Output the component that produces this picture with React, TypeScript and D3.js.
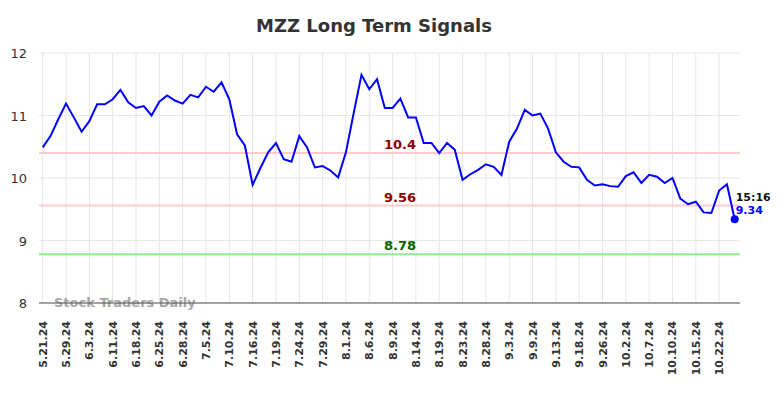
import React, { useEffect, useRef } from 'react';
import * as d3 from 'd3';

// Signal values, one per trading point
const prices = [
  10.49, 10.67, 10.94, 11.19, 10.97, 10.74, 10.91, 11.18, 11.18, 11.26,
  11.41, 11.21, 11.12, 11.15, 11.0, 11.22, 11.32, 11.24, 11.19, 11.33,
  11.29, 11.46, 11.38, 11.53, 11.26, 10.7, 10.52, 9.89, 10.16, 10.41,
  10.56, 10.3, 10.26, 10.67, 10.49, 10.17, 10.19, 10.12, 10.01, 10.41,
  11.04, 11.65, 11.42, 11.58, 11.12, 11.12, 11.27, 10.97, 10.97, 10.56,
  10.56, 10.4, 10.56, 10.45, 9.97, 10.06, 10.13, 10.22, 10.18, 10.05,
  10.58, 10.79, 11.09, 11.0, 11.03, 10.79, 10.41, 10.26, 10.18, 10.17,
  9.97, 9.88, 9.9, 9.87, 9.86, 10.03, 10.09, 9.92, 10.05, 10.02,
  9.92, 10.0, 9.67, 9.58, 9.62, 9.45, 9.44, 9.8, 9.9, 9.34,
];

// One label every third point
const dateLabels = [
  '5.21.24', '5.29.24', '6.3.24', '6.11.24', '6.18.24', '6.25.24', '6.28.24',
  '7.5.24', '7.10.24', '7.16.24', '7.19.24', '7.24.24', '7.29.24', '8.1.24',
  '8.6.24', '8.9.24', '8.14.24', '8.19.24', '8.23.24', '8.28.24', '9.3.24',
  '9.9.24', '9.13.24', '9.18.24', '9.26.24', '10.2.24', '10.7.24', '10.10.24',
  '10.15.24', '10.22.24',
];

const yTicks = [8, 9, 10, 11, 12];

const signalLevels = [
  { value: 10.4, text: '10.4', line: '#ffcccc', color: '#8b0000' },
  { value: 9.56, text: '9.56', line: '#ffcccc', color: '#8b0000' },
  { value: 8.78, text: '8.78', line: '#90ee90', color: '#006400' },
];

const lastTime = '15:16';

export default function App() {
  const ref = useRef<SVGSVGElement>(null);

  useEffect(() => {
    const svg = d3.select(ref.current);
    svg.selectAll('*').remove();

    const left = 39;
    const right = 740;
    const top = 53;
    const bottom = 303;
    const font = 'DejaVu Sans, sans-serif';

    const xScale = d3
      .scaleLinear()
      .domain([0, prices.length - 1])
      .range([42.7, 734.7]);

    const yScale = d3.scaleLinear().domain([8, 12]).range([bottom, top]);

    // Title
    svg
      .append('text')
      .attr('x', 374)
      .attr('y', 32)
      .attr('text-anchor', 'middle')
      .style('font-family', font)
      .style('font-size', '18px')
      .style('font-weight', 'bold')
      .style('fill', '#333')
      .text('MZZ Long Term Signals');

    // Grid
    const grid = svg.append('g').attr('class', 'grid');
    grid
      .selectAll('.hgrid')
      .data(yTicks)
      .enter()
      .append('line')
      .attr('x1', left)
      .attr('x2', right)
      .attr('y1', d => yScale(d))
      .attr('y2', d => yScale(d))
      .style('stroke', '#e6e6e6')
      .style('stroke-width', 1);

    grid
      .selectAll('.vgrid')
      .data(dateLabels)
      .enter()
      .append('line')
      .attr('x1', (d, i) => xScale(i * 3))
      .attr('x2', (d, i) => xScale(i * 3))
      .attr('y1', top)
      .attr('y2', bottom)
      .style('stroke', '#e6e6e6')
      .style('stroke-width', 1);

    // Y labels
    svg
      .append('g')
      .selectAll('text')
      .data(yTicks)
      .enter()
      .append('text')
      .attr('x', 27)
      .attr('y', d => yScale(d) + 5)
      .attr('text-anchor', 'end')
      .style('font-family', font)
      .style('font-size', '13px')
      .style('fill', '#333')
      .text(d => d);

    // Signal levels
    const levels = svg.append('g').attr('class', 'levels');
    levels
      .selectAll('line')
      .data(signalLevels)
      .enter()
      .append('line')
      .attr('x1', left)
      .attr('x2', right)
      .attr('y1', d => yScale(d.value))
      .attr('y2', d => yScale(d.value))
      .style('stroke', d => d.line)
      .style('stroke-width', 2);

    levels
      .selectAll('text')
      .data(signalLevels)
      .enter()
      .append('text')
      .attr('x', 400)
      .attr('y', d => yScale(d.value) - 4)
      .attr('text-anchor', 'middle')
      .style('font-family', font)
      .style('font-size', '13px')
      .style('font-weight', 'bold')
      .style('fill', d => d.color)
      .text(d => d.text);

    // Watermark
    svg
      .append('text')
      .attr('x', 54)
      .attr('y', 307)
      .style('font-family', font)
      .style('font-size', '13px')
      .style('font-weight', 'bold')
      .style('fill', '#999')
      .style('opacity', 0.85)
      .text('Stock Traders Daily');

    // Bottom axis line
    svg
      .append('line')
      .attr('x1', left)
      .attr('x2', right)
      .attr('y1', bottom)
      .attr('y2', bottom)
      .style('stroke', '#555')
      .style('stroke-width', 1);

    // X labels
    svg
      .append('g')
      .selectAll('text')
      .data(dateLabels)
      .enter()
      .append('text')
      .attr('transform', (d, i) => `translate(${xScale(i * 3) + 4}, 321) rotate(-90)`)
      .attr('text-anchor', 'end')
      .style('font-family', font)
      .style('font-size', '11px')
      .style('font-weight', 'bold')
      .style('fill', '#333')
      .text(d => d);

    // Price line
    const line = d3
      .line<number>()
      .x((d, i) => xScale(i))
      .y(d => yScale(d));

    svg
      .append('path')
      .datum(prices)
      .attr('d', line)
      .style('fill', 'none')
      .style('stroke', '#0000ff')
      .style('stroke-width', 2);

    // Last point
    const lastIdx = prices.length - 1;
    const lastVal = prices[lastIdx];
    svg
      .append('circle')
      .attr('cx', xScale(lastIdx))
      .attr('cy', yScale(lastVal))
      .attr('r', 4)
      .style('fill', '#0000ff');

    svg
      .append('text')
      .attr('x', xScale(lastIdx) + 1)
      .attr('y', yScale(lastVal) - 18)
      .style('font-family', font)
      .style('font-size', '11px')
      .style('font-weight', 'bold')
      .style('fill', '#111')
      .text(lastTime);

    svg
      .append('text')
      .attr('x', xScale(lastIdx) + 1)
      .attr('y', yScale(lastVal) - 5)
      .style('font-family', font)
      .style('font-size', '11px')
      .style('font-weight', 'bold')
      .style('fill', '#0000ff')
      .text(lastVal.toFixed(2));
  }, []);

  return (
    <svg
      ref={ref}
      width={784}
      height={398}
      style={{ position: 'absolute', left: 0, top: 0, background: '#fff' }}
    />
  );
}
